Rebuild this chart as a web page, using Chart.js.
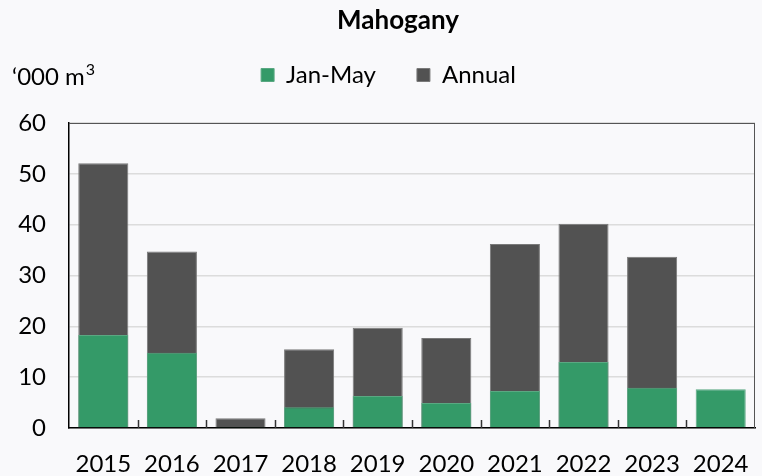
<!DOCTYPE html>
<html>
<head>
<meta charset="utf-8">
<script src="https://cdn.jsdelivr.net/npm/chart.js@4"></script>
<style>
html,body{margin:0;padding:0;background:#f9f9fb;}
#wrap{width:762px;height:476px;position:relative;}
</style>
</head>
<body>
<div id="wrap"><canvas id="c" width="762" height="476"></canvas></div>
<script>
const categories = ['2015','2016','2017','2018','2019','2020','2021','2022','2023','2024'];
const janMay = [18.3, 14.8, 0.2, 4.1, 6.3, 4.9, 7.3, 13.0, 7.9, 7.6];
const annual = [52.1, 34.7, 1.9, 15.5, 19.7, 17.7, 36.2, 40.2, 33.7, null];
const yTicks = [0, 10, 20, 30, 40, 50, 60];

const FONT = 'Lato, "Open Sans", sans-serif';

const bgPlugin = {
  id: 'bg',
  beforeDraw(chart) {
    const ctx = chart.ctx;
    ctx.save();
    ctx.fillStyle = '#f9f9fb';
    ctx.fillRect(0, 0, chart.width, chart.height);
    ctx.restore();
  }
};

const legendFitPlugin = {
  id: 'legendFit',
  beforeInit(chart) {
    const lg = chart.legend;
    const origFit = lg.fit;
    lg.fit = function () {
      origFit.call(this);
      this.height = 101;
    };
    const origDraw = lg.draw;
    lg.draw = function () {
      const ctx = this.ctx;
      ctx.save();
      ctx.translate(11, 0);
      origDraw.call(this);
      ctx.restore();
    };
  }
};

const decoPlugin = {
  id: 'deco',
  afterDatasetsDraw(chart) {
    const ctx = chart.ctx;
    const a = chart.chartArea;
    const xs = chart.scales.x;
    ctx.save();
    ctx.strokeStyle = '#333';
    ctx.lineWidth = 1.5;
    for (let i = 1; i < categories.length; i++) {
      const x = Math.round((xs.getPixelForValue(i - 1) + xs.getPixelForValue(i)) / 2) + 0.5;
      ctx.beginPath();
      ctx.moveTo(x, a.bottom);
      ctx.lineTo(x, a.bottom - 8);
      ctx.stroke();
    }
    ctx.strokeStyle = '#555';
    ctx.lineWidth = 1;
    ctx.beginPath();
    ctx.moveTo(a.left, Math.round(a.top) + 0.5);
    ctx.lineTo(a.right, Math.round(a.top) + 0.5);
    ctx.moveTo(Math.round(a.right) - 0.5, a.top);
    ctx.lineTo(Math.round(a.right) - 0.5, a.bottom);
    ctx.stroke();
    ctx.restore();
  },
  afterDraw(chart) {
    const ctx = chart.ctx;
    ctx.save();
    ctx.fillStyle = '#000';
    ctx.textBaseline = 'middle';
    ctx.textAlign = 'center';
    ctx.font = 'bold 26px ' + FONT;
    ctx.fillText('Mahogany', 398, 21);
    ctx.textAlign = 'left';
    ctx.font = '24px ' + FONT;
    ctx.fillText('\u2018000 m', 12, 77);
    const w = ctx.measureText('\u2018000 m').width;
    ctx.font = '16px ' + FONT;
    ctx.fillText('3', 12 + w + 1, 70);
    ctx.restore();
  }
};

new Chart(document.getElementById('c'), {
  type: 'bar',
  data: {
    labels: categories,
    datasets: [
      {
        label: 'Jan-May',
        data: janMay,
        backgroundColor: '#349a68',
        borderColor: '#5aa882',
        borderWidth: 1,
        barPercentage: 0.73,
        categoryPercentage: 1.0,
        order: 0
      },
      {
        label: 'Annual',
        data: annual,
        backgroundColor: '#525252',
        borderColor: '#7a7a7a',
        borderWidth: 1,
        barPercentage: 0.73,
        categoryPercentage: 1.0,
        order: 1
      }
    ]
  },
  options: {
    responsive: false,
    animation: false,
    devicePixelRatio: 1,
    layout: { padding: { top: 22, left: 0, right: 7, bottom: 0 } },
    plugins: {
      title: { display: false },
      tooltip: { enabled: false },
      legend: {
        display: true,
        position: 'top',
        align: 'center',
        labels: {
          color: '#000',
          font: { family: FONT, size: 24 },
          boxWidth: 13,
          boxHeight: 13,
          padding: 41,
          useBorderRadius: false
        }
      }
    },
    scales: {
      x: {
        stacked: true,
        offset: true,
        afterFit(scale) { scale.height = 48; scale.paddingLeft = 0; scale.paddingRight = 0; },
        grid: { display: false, drawTicks: false },
        border: { display: true, color: '#000', width: 1.5 },
        ticks: {
          color: '#000',
          font: { family: FONT, size: 24 },
          padding: 22,
          maxRotation: 0,
          autoSkip: false
        }
      },
      y: {
        stacked: false,
        min: 0,
        max: 60,
        afterFit(scale) { scale.width = 69; },
        afterBuildTicks(scale) { scale.ticks = yTicks.map(v => ({ value: v })); },
        grid: { color: '#dcdcdc', lineWidth: 1.5, drawTicks: false },
        border: { display: true, color: '#000', width: 1.5 },
        ticks: {
          color: '#000',
          font: { family: FONT, size: 24 },
          padding: 23
        }
      }
    }
  },
  plugins: [bgPlugin, legendFitPlugin, decoPlugin]
});
</script>
</body>
</html>
